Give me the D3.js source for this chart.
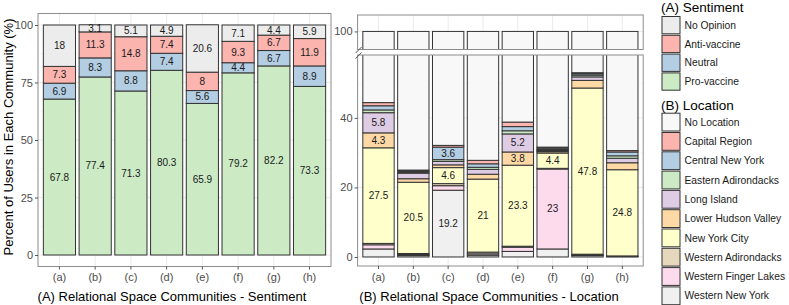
<!DOCTYPE html>
<html lang="en">
<head>
<meta charset="utf-8">
<title>Relational Space Communities</title>
<script src="https://cdn.jsdelivr.net/npm/d3@7"></script>
<style>
  body { margin: 0; background: #fff; }
  svg { font-family: "Liberation Sans", Arial, sans-serif; }
</style>
</head>
<body>
<div id="chart"></div>
<script>
// communities (x categories)
var communities = ["(a)", "(b)", "(c)", "(d)", "(e)", "(f)", "(g)", "(h)"];

// (A) sentiment, percent of users per community
var sentimentKeys = ["No Opinion", "Anti-vaccine", "Neutral", "Pro-vaccine"];
var noOpinion   = [18, 3.1, 5.1, 4.9, 20.6, 7.1, 4.4, 5.9];
var antiVaccine = [7.3, 11.3, 14.8, 7.4, 8, 9.3, 6.7, 11.9];
var neutral     = [6.9, 8.3, 8.8, 7.4, 5.6, 4.4, 6.7, 8.9];
var proVaccine  = [67.8, 77.4, 71.3, 80.3, 65.9, 79.2, 82.2, 73.3];

// (B) location, percent of users per community
var locationKeys = ["No Location", "Capital Region", "Central New York", "Eastern Adirondacks",
  "Long Island", "Lower Hudson Valley", "New York City", "Western Adirondacks",
  "Western Finger Lakes", "Western New York"];
var noLocation          = [55.6, 75.0, 67.9, 72.2, 61.2, 68.4, 47.0, 69.4];
var capitalRegion       = [0.9, 0.3, 0.5, 1.0, 1.3, 0.3, 0.3, 0.4];
var centralNewYork      = [1.2, 0.3, 3.6, 1.0, 1.2, 0.4, 0.4, 1.1];
var easternAdirondacks  = [0.8, 0.3, 0.5, 0.6, 0.9, 0.3, 0.5, 0.7];
var longIsland          = [5.8, 1.6, 1.0, 1.4, 5.2, 0.3, 1.0, 1.3];
var lowerHudsonValley   = [4.3, 1.0, 0.8, 1.4, 3.8, 0.4, 2.2, 2.0];
var newYorkCity         = [27.5, 20.5, 4.6, 21, 23.3, 4.4, 47.8, 24.8];
var westernAdirondacks  = [0.4, 0.3, 0.6, 0.5, 0.3, 0.2, 0.2, 0.1];
var westernFingerLakes  = [1.2, 0.3, 1.3, 0.4, 1.2, 23, 0.2, 0.1];
var westernNewYork      = [2.3, 0.4, 19.2, 0.5, 1.6, 2.3, 0.4, 0.1];

var sentimentColors = ["#ECECEC", "#FBB4AE", "#B3CDE3", "#CCEBC5"];
var locationColors = ["#F8F8F8", "#FBB4AE", "#B3CDE3", "#CCEBC5", "#DECBE4",
  "#FED9A6", "#FFFFCC", "#E5D8BD", "#FDDAEC", "#F0F0F0"];

// build rows for d3.stack
var sentRows = communities.map(function(c, i){
  return {c: c, "No Opinion": noOpinion[i], "Anti-vaccine": antiVaccine[i],
          "Neutral": neutral[i], "Pro-vaccine": proVaccine[i]};
});
var locArrays = [noLocation, capitalRegion, centralNewYork, easternAdirondacks, longIsland,
  lowerHudsonValley, newYorkCity, westernAdirondacks, westernFingerLakes, westernNewYork];
var locRows = communities.map(function(c, i){
  var r = {c: c};
  locationKeys.forEach(function(k, j){ r[k] = locArrays[j][i]; });
  return r;
});

var w = 789, h = 305;
var svg = d3.select("#chart").append("svg").attr("width", w).attr("height", h);

var sentColor = d3.scaleOrdinal().domain(sentimentKeys).range(sentimentColors);
var locColor = d3.scaleOrdinal().domain(locationKeys).range(locationColors);

var gridMajor = "#EBEBEB", border = "#8C8C8C", barStroke = "#333333", tickText = "#4D4D4D";

function styleAxis(g){
  g.select(".domain").remove();
  g.selectAll(".tick line").attr("stroke", "#555");
  g.selectAll(".tick text").attr("fill", tickText).style("font-size", "11px");
}

// ---------- panel A ----------
var pA = {l: 38, r: 331, t: 13.5, b: 266.5};
var xA = d3.scaleBand().domain(communities).range([pA.l, pA.r]).paddingInner(0.1).paddingOuter(0.15);
var yA = d3.scaleLinear().domain([-5, 105]).range([pA.b, pA.t]);

var gA = svg.append("g");
// grid
[12.5, 37.5, 62.5, 87.5].forEach(function(v){
  gA.append("line").attr("x1", pA.l).attr("x2", pA.r).attr("y1", yA(v)).attr("y2", yA(v))
    .attr("stroke", "#F3F3F3").attr("stroke-width", 0.6);
});
[0, 25, 50, 75, 100].forEach(function(v){
  gA.append("line").attr("x1", pA.l).attr("x2", pA.r).attr("y1", yA(v)).attr("y2", yA(v))
    .attr("stroke", gridMajor).attr("stroke-width", 1);
});
communities.forEach(function(c){
  var cx = xA(c) + xA.bandwidth() / 2;
  gA.append("line").attr("x1", cx).attr("x2", cx).attr("y1", pA.t).attr("y2", pA.b)
    .attr("stroke", gridMajor).attr("stroke-width", 1);
});

var stackA = d3.stack().keys(sentimentKeys.slice().reverse())(sentRows);
var layerA = gA.selectAll("g.layer").data(stackA).enter().append("g").attr("class", "layer")
  .attr("fill", function(d){ return sentColor(d.key); });
layerA.selectAll("rect").data(function(d){ return d; }).enter().append("rect")
  .attr("x", function(d){ return xA(d.data.c); })
  .attr("y", function(d){ return yA(d[1]); })
  .attr("width", xA.bandwidth())
  .attr("height", function(d){ return yA(d[0]) - yA(d[1]); })
  .attr("stroke", barStroke).attr("stroke-width", 1);
layerA.each(function(layer){
  d3.select(this).selectAll("text").data(layer).enter().append("text")
    .attr("x", function(d){ return xA(d.data.c) + xA.bandwidth() / 2; })
    .attr("y", function(d){ return yA((d[0] + d[1]) / 2); })
    .attr("text-anchor", "middle").attr("dy", "0.35em")
    .attr("fill", "#1A1A1A").style("font-size", "10px")
    .text(function(d){ return d.data[layer.key]; });
});
gA.append("rect").attr("x", pA.l).attr("y", pA.t).attr("width", pA.r - pA.l).attr("height", pA.b - pA.t)
  .attr("fill", "none").attr("stroke", border).attr("stroke-width", 1);

svg.append("g").attr("transform", "translate(" + pA.l + ",0)")
  .call(d3.axisLeft(yA).tickValues([0, 25, 50, 75, 100]).tickSize(3).tickPadding(2))
  .call(styleAxis);
svg.append("g").attr("transform", "translate(0," + pA.b + ")")
  .call(d3.axisBottom(xA).tickSize(3).tickPadding(4))
  .call(styleAxis);

svg.append("text").attr("transform", "translate(13,137) rotate(-90)")
  .attr("text-anchor", "middle").style("font-size", "13px")
  .text("Percent of Users in Each Community (%)");
svg.append("text").attr("x", 172).attr("y", 301).attr("text-anchor", "middle")
  .style("font-size", "13px").text("(A) Relational Space Communities - Sentiment");

// ---------- panel B (broken y axis) ----------
var pB = {l: 357.6, r: 643.2, t: 15, b: 266};
var topSec = {t: 15, b: 49.5}, lowSec = {t: 55, b: 266};
var xB = d3.scaleBand().domain(communities).range([pB.l, pB.r]).paddingInner(0.1).paddingOuter(0.15);
var yLow = d3.scaleLinear().domain([-2.6, 58.1]).range([lowSec.b, lowSec.t]);
var yHigh = d3.scaleLinear().domain([94.5, 105]).range([topSec.b, topSec.t]);

var defs = svg.append("defs");
defs.append("clipPath").attr("id", "clipLow").append("rect")
  .attr("x", pB.l - 2).attr("y", lowSec.t).attr("width", pB.r - pB.l + 4).attr("height", lowSec.b - lowSec.t);
defs.append("clipPath").attr("id", "clipHigh").append("rect")
  .attr("x", pB.l - 2).attr("y", topSec.t).attr("width", pB.r - pB.l + 4).attr("height", topSec.b - topSec.t);

var stackB = d3.stack().keys(locationKeys.slice().reverse())(locRows);

function drawSection(sec, y, clipId, minor, major){
  var g = svg.append("g");
  minor.forEach(function(v){
    g.append("line").attr("x1", pB.l).attr("x2", pB.r).attr("y1", y(v)).attr("y2", y(v))
      .attr("stroke", "#F3F3F3").attr("stroke-width", 0.6);
  });
  major.forEach(function(v){
    g.append("line").attr("x1", pB.l).attr("x2", pB.r).attr("y1", y(v)).attr("y2", y(v))
      .attr("stroke", gridMajor).attr("stroke-width", 1);
  });
  communities.forEach(function(c){
    var cx = xB(c) + xB.bandwidth() / 2;
    g.append("line").attr("x1", cx).attr("x2", cx).attr("y1", sec.t).attr("y2", sec.b)
      .attr("stroke", gridMajor).attr("stroke-width", 1);
  });
  var bars = g.append("g").attr("clip-path", "url(#" + clipId + ")");
  var layer = bars.selectAll("g.layer").data(stackB).enter().append("g").attr("class", "layer")
    .attr("fill", function(d){ return locColor(d.key); });
  layer.selectAll("rect").data(function(d){ return d; }).enter().append("rect")
    .attr("x", function(d){ return xB(d.data.c); })
    .attr("y", function(d){ return y(d[1]); })
    .attr("width", xB.bandwidth())
    .attr("height", function(d){ return y(d[0]) - y(d[1]); })
    .attr("stroke", barStroke).attr("stroke-width", 1);
  g.append("rect").attr("x", pB.l).attr("y", sec.t).attr("width", pB.r - pB.l).attr("height", sec.b - sec.t)
    .attr("fill", "none").attr("stroke", border).attr("stroke-width", 1);
  svg.append("g").attr("transform", "translate(" + pB.l + ",0)")
    .call(d3.axisLeft(y).tickValues(major).tickSize(3).tickPadding(2))
    .call(styleAxis);
  return bars;
}

var lowBars = drawSection(lowSec, yLow, "clipLow", [10, 30, 50], [0, 20, 40]);
drawSection(topSec, yHigh, "clipHigh", [], [100]);

// value labels in lower section (skip No Location and thin segments)
stackB.forEach(function(layer){
  if (layer.key === "No Location") return;
  lowBars.selectAll(null).data(layer.filter(function(d){ return d.data[layer.key] >= 3.5; }))
    .enter().append("text")
    .attr("x", function(d){ return xB(d.data.c) + xB.bandwidth() / 2; })
    .attr("y", function(d){ return yLow((d[0] + d[1]) / 2); })
    .attr("text-anchor", "middle").attr("dy", "0.35em")
    .attr("fill", "#1A1A1A").style("font-size", "10px")
    .text(function(d){ return d.data[layer.key]; });
});

// break marks
[topSec.b + 0.5, lowSec.t + 0.5].forEach(function(yy){
  svg.append("line").attr("x1", pB.l - 2).attr("y1", yy + 3).attr("x2", pB.l + 4).attr("y2", yy - 3)
    .attr("stroke", "#555").attr("stroke-width", 1);
});

svg.append("g").attr("transform", "translate(0," + pB.b + ")")
  .call(d3.axisBottom(xB).tickSize(3).tickPadding(4))
  .call(styleAxis);
svg.append("text").attr("x", 489).attr("y", 301).attr("text-anchor", "middle")
  .style("font-size", "13px").text("(B) Relational Space Communities - Location");

// ---------- legends ----------
function legend(title, keys, color, titleY, keyY, pitch){
  var g = svg.append("g");
  g.append("text").attr("x", 661).attr("y", titleY).style("font-size", "13.5px").text(title);
  keys.forEach(function(k, i){
    var y0 = keyY + i * pitch;
    g.append("rect").attr("x", 662).attr("y", y0).attr("width", 18).attr("height", pitch - 1.5)
      .attr("fill", color(k)).attr("stroke", barStroke).attr("stroke-width", 1);
    g.append("text").attr("x", 684.5).attr("y", y0 + (pitch - 1.5) / 2).attr("dy", "0.35em")
      .style("font-size", "10.3px").attr("fill", "#1A1A1A").text(k);
  });
}
legend("(A) Sentiment", sentimentKeys, sentColor, 11.5, 16.5, 18.8);
legend("(B) Location", locationKeys, locColor, 109.5, 113.2, 19.3);
</script>
</body>
</html>
